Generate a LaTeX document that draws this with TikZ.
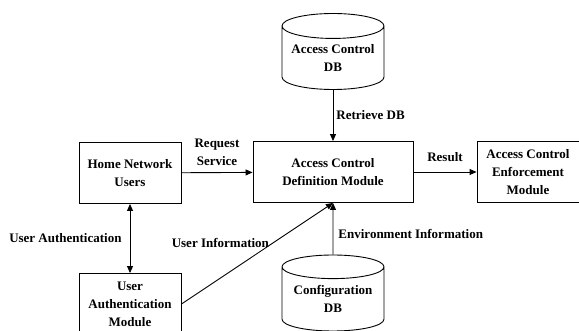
\documentclass[tikz,border=0pt]{standalone}
\usepackage{fontspec}
\setmainfont{Liberation Serif}
\usetikzlibrary{positioning}
\usetikzlibrary{shapes.geometric,arrows.meta}
\tikzstyle{module}=[rectangle,draw,line width=0.9pt,align=center,inner sep=0pt,minimum width=102pt,minimum height=61pt]
\tikzstyle{store}=[cylinder,shape border rotate=90,draw,line width=0.9pt,aspect=0.3,align=center,inner sep=0pt,minimum width=102pt,minimum height=76pt,anchor=shape center]
\tikzstyle{edge} = [draw,line width=0.9pt,-{Triangle[length=7pt,width=6pt]}]
\tikzstyle{biedge} = [draw,line width=0.9pt,{Triangle[length=7pt,width=6pt]}-{Triangle[length=7pt,width=6pt]}]
\tikzstyle{weight} = [align=center,inner sep=3pt]

\begin{document}
\begin{tikzpicture}[x=1pt,y=-1pt,font=\bfseries\fontsize{13}{18}\selectfont]
    \clip (0,0) rectangle (579,331);
    % modules
    \foreach \pos/\name/\label in {{(130,173)/home/Home Network\\Users},
    {(130,304)/uam/User\\Authentication\\Module}, {(528,172)/enf/Access Control\\Enforcement\\Module}}
        \node[module] (\name) at \pos {\label};
    \node[module,minimum width=160pt] (acdm) at (333,172) {Access Control\\Definition Module};

    % databases
    \node[store] (acdb) at (333,51.5) {Access Control\\DB};
    \node[store] (cfgdb) at (333,293) {Configuration\\DB};

    % connectors and their labels
    \path[edge] (acdb) -- node[weight,right] {Retrieve DB} (acdm);
    \path[edge] (home) -- node[weight,above,yshift=3pt] {Request\\Service} (acdm);
    \path[edge] (acdm) -- node[weight,above,yshift=7pt] {Result} (enf);
    \path[edge] (cfgdb) -- node[weight,right,pos=0.4,xshift=2pt] {Environment Information} (acdm);
    \path[biedge] (home) -- node[weight,left,inner sep=8pt] {User Authentication} (uam);
    \path[edge] (uam.east) -- node[weight,left,pos=0.6] {User Information} (acdm.south);
\end{tikzpicture}
\end{document}
